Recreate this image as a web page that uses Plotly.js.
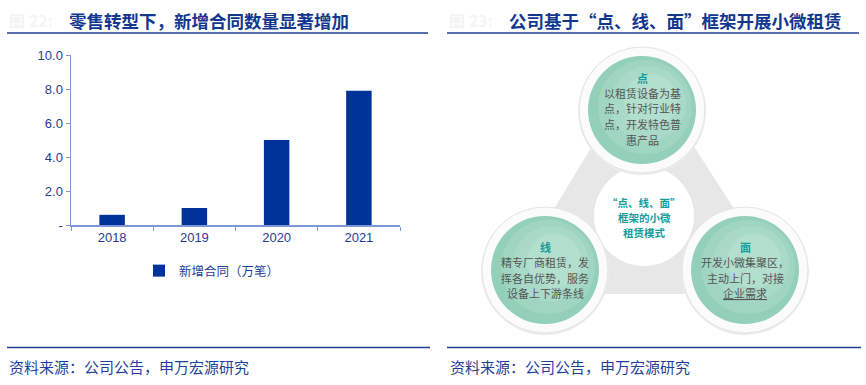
<!DOCTYPE html>
<html><head><meta charset="utf-8">
<script src="https://cdn.plot.ly/plotly-3.0.1.min.js"></script>
<style>html,body{margin:0;padding:0;background:#fff}#c{width:866px;height:385px}</style>
</head><body><div id="c"></div>
<script>
// ---- data ----
const years = ['2018', '2019', '2020', '2021'];
const newContracts = [0.6, 1.0, 5.0, 7.9];
const seriesName = '新增合同（万笔）';
const yTickVals = [0, 2, 4, 6, 8, 10];
const yTickText = ['-', '2.0', '4.0', '6.0', '8.0', '10.0'];
const leftTitle = '零售转型下，新增合同数量显著增加';
const rightTitle = '公司基于“点、线、面”框架开展小微租赁';
const sourceText = '资料来源：公司公告，申万宏源研究';
const centerLines = ['“点、线、面”', '框架的小微', '租赁模式'];
const nodeHeads = ['点', '线', '面'];
const nodeLines = [
  ['以租赁设备为基', '点，针对行业特', '点，开发特色普', '惠产品'],
  ['精专厂商租赁，发', '挥各自优势，服务', '设备上下游条线'],
  ['开发小微集聚区，', '主动上门，对接', '<u>企业需求</u>']
];

// ---- layout helpers (pixel -> paper) ----
const W = 866, H = 385;
const X = p => p / W, Y = p => 1 - p / H;
const CJK = '"Noto Sans CJK SC", "Noto Sans", sans-serif';
const NUM = '"Liberation Sans", Arial, sans-serif';
const BLUE = '#1f3c96', TBLUE = '#13378f', AX = '#7e98d6';
const TEAL = '#159c9c';

const shapes = [], ann = [];
// title underlines & bottom rules
[[7, 428], [447, 859]].forEach(([a, b]) => {
  shapes.push({type: 'line', xref: 'paper', yref: 'paper', x0: X(a), x1: X(b), y0: Y(33), y1: Y(33), line: {color: '#1f3f99', width: 1.6}});
  shapes.push({type: 'line', xref: 'paper', yref: 'paper', x0: X(a), x1: X(b + 2), y0: Y(347.5), y1: Y(347.5), line: {color: '#1f3f99', width: 1.6}});
});
// titles
ann.push({xref: 'paper', yref: 'paper', x: X(7), y: Y(20), xanchor: 'left', yanchor: 'middle', showarrow: false, text: '图 22:', font: {family: CJK, size: 16, color: '#f4f4f4', weight: 'bold'}});
ann.push({xref: 'paper', yref: 'paper', x: X(67), y: Y(20), xanchor: 'left', yanchor: 'middle', showarrow: false, text: '<b>' + leftTitle + '</b>', font: {family: CJK, size: 17.5, color: TBLUE}});
ann.push({xref: 'paper', yref: 'paper', x: X(447), y: Y(20), xanchor: 'left', yanchor: 'middle', showarrow: false, text: '图 23:', font: {family: CJK, size: 16, color: '#f4f4f4', weight: 'bold'}});
ann.push({xref: 'paper', yref: 'paper', x: X(507), y: Y(20), xanchor: 'left', yanchor: 'middle', showarrow: false, text: '<b>' + rightTitle + '</b>', font: {family: CJK, size: 17.5, color: TBLUE}});
// sources
[7, 448].forEach(x => ann.push({xref: 'paper', yref: 'paper', x: X(x), y: Y(366), xanchor: 'left', yanchor: 'middle', showarrow: false, text: sourceText, font: {family: CJK, size: 15, color: '#1f3f99'}}));

// ---- diagram ----
const nodes = [[642, 110], [545, 270], [745, 270]];
const ctr = [644, 216];
const P = (x, y) => X(x) + ' ' + Y(y);
shapes.push({type: 'path', xref: 'paper', yref: 'paper', layer: 'below',
  path: 'M ' + P(...nodes[0]) + ' L ' + P(...nodes[1]) + ' L ' + P(...nodes[2]) + ' Z',
  fillcolor: '#e7e7e7', line: {color: '#e7e7e7', width: 48}});
function circ(cx, cy, r, fill, line, lw) {
  shapes.push({type: 'circle', xref: 'paper', yref: 'paper', x0: X(cx - r), x1: X(cx + r), y0: Y(cy + r), y1: Y(cy - r), fillcolor: fill, line: {color: line || fill, width: lw || 0}});
}
circ(ctr[0], ctr[1], 50, '#ffffff');
nodes.forEach(([cx, cy]) => {
  circ(cx, cy + 1, 64, '#ececec');
  circ(cx, cy, 63, '#fbfbfb', '#e4e4e4', 1);
  circ(cx, cy, 54, '#93cfb9');
  circ(cx + 3, cy - 3, 47, '#9fd5c1');
  circ(cx + 6, cy - 6, 38, '#a9dac8');
  circ(cx + 9, cy - 9, 27, '#b2dfce');
});
centerLines.forEach((t, i) => ann.push({xref: 'paper', yref: 'paper', x: X(ctr[0]), y: Y(203 + i * 14.5), xanchor: 'center', yanchor: 'middle', showarrow: false, text: '<b>' + t + '</b>', font: {family: CJK, size: 10.5, color: TEAL}}));
const headY = [78, 247, 247];
nodes.forEach(([cx, cy], k) => {
  ann.push({xref: 'paper', yref: 'paper', x: X(cx), y: Y(headY[k]), xanchor: 'center', yanchor: 'middle', showarrow: false, text: '<b>' + nodeHeads[k] + '</b>', font: {family: CJK, size: 11, color: TEAL}});
  nodeLines[k].forEach((t, i) => ann.push({xref: 'paper', yref: 'paper', x: X(cx), y: Y(headY[k] + 15 + i * 15.5), xanchor: 'center', yanchor: 'middle', showarrow: false, text: t, font: {family: CJK, size: 11, color: '#555555'}}));
});

const data = [{type: 'bar', x: years, y: newContracts, name: seriesName, marker: {color: '#00339a'}, width: 0.31, showlegend: true}];

const layout = {
  width: W, height: H, margin: {l: 0, r: 0, t: 0, b: 0},
  paper_bgcolor: '#fff', plot_bgcolor: 'rgba(0,0,0,0)',
  showlegend: true,
  legend: {orientation: 'h', x: X(212), xanchor: 'center', y: Y(271), yanchor: 'middle', font: {family: CJK, size: 12.5, color: BLUE}, itemwidth: 30, bgcolor: 'rgba(0,0,0,0)'},
  xaxis: {domain: [X(71), X(400)], type: 'category', showline: true, linecolor: AX, linewidth: 1.5, ticks: 'outside', tickson: 'boundaries', ticklen: 4, tickcolor: AX, showgrid: false, tickfont: {family: NUM, size: 13, color: BLUE}, fixedrange: true},
  yaxis: {domain: [Y(225), Y(55)], range: [0, 10], showline: true, linecolor: AX, linewidth: 1.5, ticks: 'outside', ticklen: 4, tickcolor: AX, tickvals: yTickVals, ticktext: yTickText, showgrid: false, zeroline: false, tickfont: {family: NUM, size: 13, color: BLUE}, fixedrange: true},
  shapes: shapes, annotations: ann
};
Plotly.newPlot('c', data, layout, {displayModeBar: false, staticPlot: true});
</script></body></html>
